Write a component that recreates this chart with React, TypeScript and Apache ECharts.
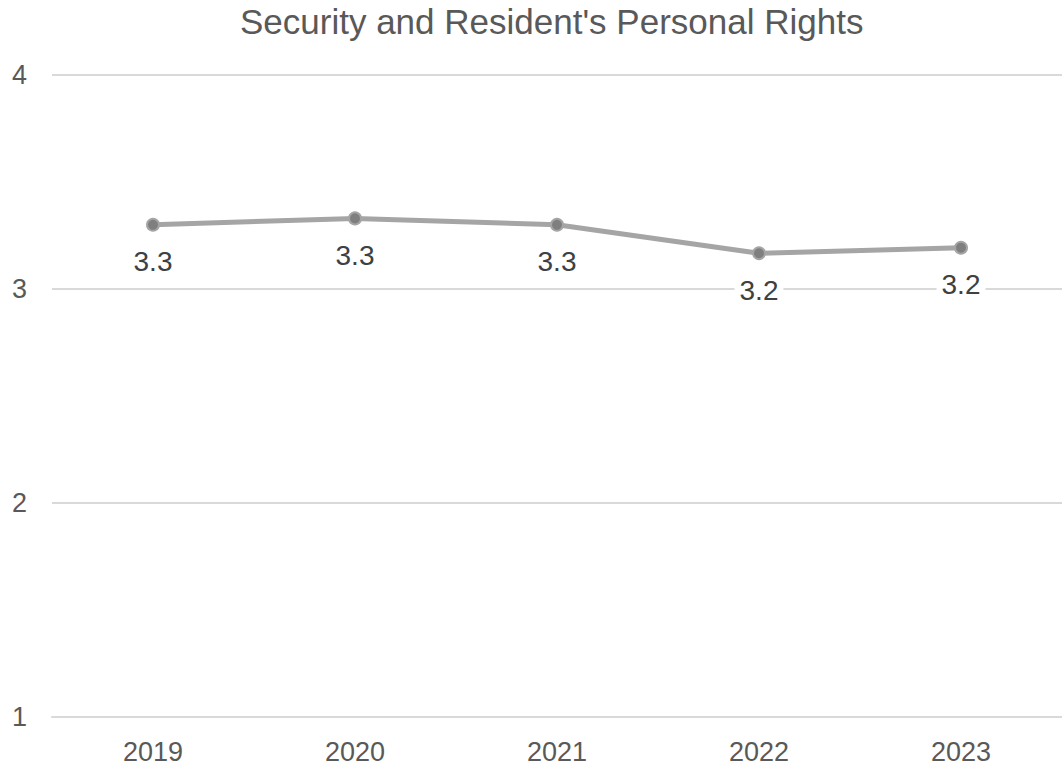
import React, { useEffect, useRef } from "react";
import * as echarts from "echarts";

const title = "Security and Resident's Personal Rights";
const categories = ["2019", "2020", "2021", "2022", "2023"];
const values = [3.30, 3.33, 3.30, 3.167, 3.193];
const yTicks = { min: 1, max: 4, interval: 1 };

export default function App() {
  const ref = useRef<HTMLDivElement>(null);
  useEffect(() => {
    if (!ref.current) return;
    const chart = echarts.init(ref.current, undefined, { renderer: "svg" });
    chart.setOption({
      animation: false,
      backgroundColor: "#ffffff",
      title: {
        text: title,
        left: 235,
        top: -1,
        textStyle: {
          fontFamily: "Liberation Sans, Arial, sans-serif",
          fontSize: 35,
          fontWeight: "normal",
          color: "#595959",
        },
      },
      grid: { left: 52, right: -10, top: 75, bottom: 51, containLabel: false },
      xAxis: {
        type: "category",
        data: categories,
        boundaryGap: true,
        axisLine: { show: true, lineStyle: { color: "#d9d9d9", width: 2 } },
        axisTick: { show: false },
        axisLabel: {
          margin: 21,
          fontFamily: "Liberation Sans, Arial, sans-serif",
          fontSize: 27,
          color: "#595959",
        },
      },
      yAxis: {
        type: "value",
        min: yTicks.min,
        max: yTicks.max,
        interval: yTicks.interval,
        axisLine: { show: false },
        axisTick: { show: false },
        splitLine: { lineStyle: { color: "#d9d9d9", width: 2 } },
        axisLabel: {
          margin: 25,
          fontFamily: "Liberation Sans, Arial, sans-serif",
          fontSize: 27,
          color: "#595959",
        },
      },
      series: [
        {
          type: "line",
          data: values,
          lineStyle: { color: "#a5a5a5", width: 5 },
          symbol: "circle",
          symbolSize: 12,
          itemStyle: { color: "#7f7f7f", borderColor: "#a5a5a5", borderWidth: 2 },
          label: {
            show: true,
            position: "bottom",
            distance: 16,
            formatter: (p: any) => Number(p.value).toFixed(1),
            fontFamily: "Liberation Sans, Arial, sans-serif",
            fontSize: 28,
            color: "#404040",
            backgroundColor: "#ffffff",
            padding: [0, 5],
          },
        },
      ],
    });
    return () => chart.dispose();
  }, []);
  return (
    <div
      ref={ref}
      style={{ position: "fixed", left: 0, top: 0, width: 1062, height: 768 }}
    />
  );
}
